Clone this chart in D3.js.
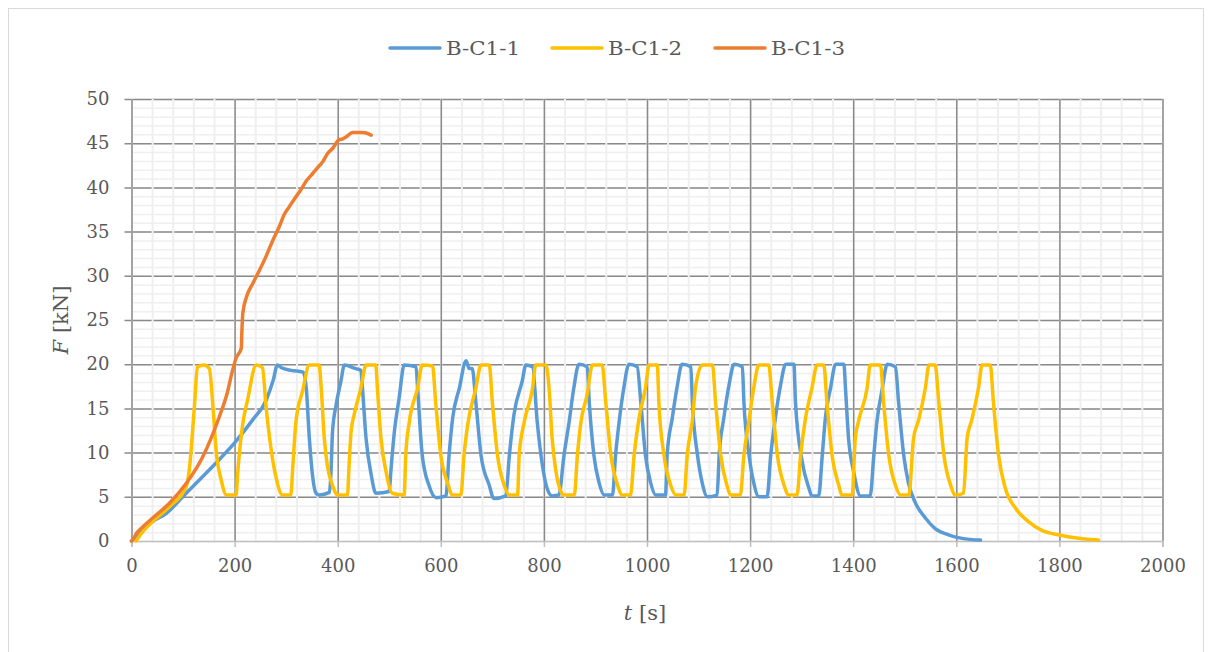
<!DOCTYPE html>
<html>
<head>
<meta charset="utf-8">
<script src="https://cdn.jsdelivr.net/npm/d3@7"></script>
<style>
  body { margin: 0; background: #fff; }
</style>
</head>
<body>
<div id="chart"></div>
<script>
const FONT = "'DejaVu Serif', 'Liberation Serif', serif";

// Series names and colours
const seriesNames = ["B-C1-1", "B-C1-2", "B-C1-3"];
const seriesColors = ["#5B9BD5", "#FFC000", "#ED7D31"];

// Axis ticks
const xTicks = [0, 200, 400, 600, 800, 1000, 1200, 1400, 1600, 1800, 2000];
const yTicks = [0, 5, 10, 15, 20, 25, 30, 35, 40, 45, 50];

// [t (s), F (kN)]
const bc11 = [
  [0,0],[20,1.2],[41,2.2],[67,3.1],[106,5.4],[145,7.7],[170,9.2],[200,11.1],[235,13.7],[261,15.9],[275,18.2],[283,19.9],[291,19.6],[310,19.3],[333,19.1],
  [339,17.3],[345,11.6],[351,7.5],[358,5.4],[364,5.2],[384,5.5],
  [387,7.8],[390,12.4],[397,15.4],[406,18.0],[413,19.9],[435,19.5],[445,19.3],
  [448,17.3],[455,11.6],[465,7.5],[474,5.4],[500,5.6],
  [503,7.8],[510,12.4],[519,16.1],[529,19.9],[552,19.7],
  [555,17.3],[564,9.7],[577,6.3],[591,4.9],[610,5.1],
  [616,9.7],[623,13.9],[636,17.3],[649,20.4],[655,19.5],[661,19.5],
  [668,15.7],[678,9.7],[694,6.3],[703,4.8],[726,5.1],
  [733,9.7],[742,14.3],[758,18.1],[765,19.9],[778,19.7],
  [787,13.5],[797,8.6],[806,6.0],[816,5.1],[829,5.2],
  [839,9.7],[849,13.5],[858,17.3],[868,20],[884,19.7],
  [888,15.7],[897,9.7],[907,6.6],[917,5.2],[933,5.2],
  [939,9.7],[946,13.5],[955,17.3],[965,20],[981,19.7],
  [988,15.7],[997,9.7],[1007,6.6],[1017,5.2],[1036,5.2],
  [1039,9.7],[1049,13.9],[1058,17.3],[1068,20],[1085,19.7],
  [1088,15.7],[1098,9.7],[1107,6.6],[1117,5.0],[1136,5.2],
  [1140,9.7],[1149,13.9],[1159,17.6],[1169,20],[1185,19.7],
  [1188,15.7],[1198,9.7],[1207,6.6],[1217,5.0],[1233,5.0],
  [1240,9.7],[1249,13.9],[1259,17.6],[1269,20],[1285,20],
  [1288,15.7],[1301,9.0],[1314,6.0],[1320,5.1],[1333,5.1],
  [1340,9.7],[1346,13.9],[1356,17.3],[1366,20],[1382,20],
  [1385,17.3],[1391,11.6],[1401,7.8],[1414,5.1],[1433,5.1],
  [1440,9.7],[1446,13.5],[1456,17.1],[1466,20],[1482,19.7],
  [1488,15.7],[1498,9.7],[1507,6.6],[1520,4.4],[1540,2.6],[1559,1.4],[1585,0.7],[1611,0.3],[1647,0.1]
];

const bc12 = [
  [9,0],[22,1.05],[41,2.2],[74,3.9],[106,6.1],[112,8],[122,15.2],[128,19.7],[141,19.9],[151,19.5],
  [158,15.2],[164,10.3],[174,6.9],[184,5.2],[203,5.2],
  [206,7.7],[216,13.3],[225,15.9],[242,19.9],[254,19.6],
  [261,15.2],[271,10.3],[280,7.3],[293,5.2],[309,5.2],
  [313,8.5],[319,13.5],[332,17],[345,19.9],[364,19.9],
  [368,17.3],[374,11.6],[380,8.5],[390,6.3],[400,5.2],[419,5.2],
  [422,8.5],[426,12.4],[432,14.3],[445,17.3],[455,19.9],[474,19.9],
  [477,17.3],[484,11.6],[494,7.8],[506,5.4],[529,5.2],
  [532,9.7],[539,13.5],[555,17.3],[564,19.9],[584,19.8],
  [590,15.7],[600,9.7],[613,6.6],[623,5.2],[639,5.2],
  [645,9.7],[652,13.1],[668,17.3],[678,19.9],[694,19.9],
  [700,15.7],[710,9.7],[723,6.3],[733,5.2],[749,5.2],
  [752,9.7],[762,13.5],[778,17.3],[784,19.9],[804,19.9],
  [810,17.3],[816,11.6],[823,8.0],[833,5.6],[839,5.2],[859,5.2],
  [865,9.7],[871,13.1],[884,16.6],[894,19.9],[913,19.9],
  [920,15.7],[930,9.7],[943,6.3],[952,5.2],[968,5.2],
  [975,9.7],[984,13.7],[997,17.3],[1004,19.9],[1020,19.9],
  [1023,15.7],[1033,9.7],[1046,6.3],[1056,5.2],[1072,5.2],
  [1078,9.7],[1088,13.7],[1094,17.3],[1107,19.9],[1127,19.9],
  [1133,15.7],[1143,9.7],[1155,6.3],[1162,5.2],[1181,5.2],
  [1188,9.7],[1198,13.7],[1207,17.3],[1217,19.9],[1236,19.9],
  [1243,15.7],[1253,9.7],[1266,6.3],[1275,5.2],[1291,5.2],
  [1298,9.7],[1307,13.7],[1320,17.3],[1330,19.9],[1343,19.9],
  [1349,15.7],[1359,9.7],[1372,6.3],[1378,5.2],[1398,5.2],
  [1404,11.6],[1411,13.7],[1427,17.3],[1433,19.9],[1453,19.9],
  [1459,15.7],[1469,9.7],[1482,6.3],[1492,5.2],[1508,5.2],
  [1517,11.6],[1527,13.7],[1540,17.3],[1547,19.9],[1559,19.9],
  [1566,15.7],[1576,9.7],[1589,6.3],[1598,5.2],[1614,5.4],
  [1621,11.6],[1630,13.7],[1643,17.3],[1650,19.9],[1666,19.9],
  [1672,15.7],[1682,9.7],[1695,6.0],[1715,3.7],[1740,2.2],[1766,1.2],[1798,0.7],[1837,0.3],[1876,0.1]
];

const bc13 = [
  [0,0],[3,0.2],[10,0.9],[22,1.6],[41,2.6],[74,4.3],[106,6.5],[138,9.5],[170,14],[186,16.8],[196,19.3],[203,20.7],
  [213,21.8],[214,23.5],[216,25.8],[223,27.6],[235,29.1],[248,30.6],[261,32.2],[274,34.0],[287,35.6],[296,36.9],
  [306,37.8],[316,38.7],[326,39.5],[340,40.8],[352,41.6],[362,42.3],[371,42.9],[380,43.8],[390,44.4],[403,45.4],
  [410,45.5],[416,45.7],[429,46.2],[440,46.2],[448,46.2],[458,46.1],[465,45.9]
];

const allSeries = [bc11, bc12, bc13];

// Dimensions
const W = 1208, H = 652;
const plot = { left: 131.5, right: 1162.5, top: 99, bottom: 541 };
const width = plot.right - plot.left;
const height = plot.bottom - plot.top;

const x = d3.scaleLinear().domain([0, 2000]).range([0, width]);
const y = d3.scaleLinear().domain([0, 50]).range([height, 0]);

const svg = d3.select("#chart").append("svg")
  .attr("width", W).attr("height", H)
  .style("font-family", FONT);

// Outer chart border
svg.append("rect")
  .attr("x", 8.5).attr("y", 8.5)
  .attr("width", 1195).attr("height", 660)
  .attr("fill", "#fff")
  .attr("stroke", "#d9d9d9")
  .attr("stroke-width", 1);

const g = svg.append("g").attr("transform", `translate(${plot.left},${plot.top})`);

// Minor horizontal gridlines
g.append("g")
  .call(d3.axisLeft(y).tickValues(d3.range(0, 51, 1)).tickSize(-width).tickFormat(""))
  .call(s => s.select(".domain").remove())
  .selectAll("line").attr("stroke", "#efefef").attr("stroke-width", 1.5);

// Major horizontal gridlines (with outer ticks)
g.append("g")
  .call(d3.axisLeft(y).tickValues(yTicks.slice(1)).tickSize(-width).tickFormat(""))
  .call(s => s.select(".domain").remove())
  .selectAll("line").attr("stroke", "#8a8a8a").attr("stroke-width", 1.5).attr("x2", width).attr("x1", -7);

// Minor vertical gridlines
g.append("g")
  .attr("transform", `translate(0,${height})`)
  .call(d3.axisBottom(x).tickValues(d3.range(0, 2001, 40)).tickSize(-height).tickFormat(""))
  .call(s => s.select(".domain").remove())
  .selectAll("line").attr("stroke", "#efefef").attr("stroke-width", 2);

// Major vertical gridlines
g.append("g")
  .attr("transform", `translate(0,${height})`)
  .call(d3.axisBottom(x).tickValues(xTicks).tickSize(-height).tickFormat(""))
  .call(s => s.select(".domain").remove())
  .selectAll("line").attr("stroke", "#8a8a8a").attr("stroke-width", 1.5);

// X axis line with ticks and labels
const xAxis = g.append("g")
  .attr("transform", `translate(0,${height})`)
  .call(d3.axisBottom(x).tickValues(xTicks).tickSize(6).tickPadding(12).tickFormat(d3.format("d")));
xAxis.select(".domain").attr("stroke", "#bfbfbf").attr("stroke-width", 1.5);
xAxis.selectAll("line").attr("stroke", "#bfbfbf").attr("stroke-width", 1.5);
xAxis.selectAll("text")
  .style("font-family", FONT).style("font-size", "18px").attr("fill", "#595959");

// Y axis labels
const yAxis = g.append("g")
  .call(d3.axisLeft(y).tickValues(yTicks).tickSize(0).tickPadding(22));
yAxis.select(".domain").remove();
yAxis.selectAll("text")
  .style("font-family", FONT).style("font-size", "18px").attr("fill", "#595959");

// Lines
const line = d3.line()
  .x(d => x(d[0]))
  .y(d => y(d[1]))
  .curve(d3.curveMonotoneX);

allSeries.forEach((data, i) => {
  g.append("path")
    .datum(data)
    .attr("fill", "none")
    .attr("stroke", seriesColors[i])
    .attr("stroke-width", 3.5)
    .attr("stroke-linejoin", "round")
    .attr("stroke-linecap", "round")
    .attr("d", line);
});

// Axis titles
svg.append("text")
  .attr("x", 645).attr("y", 620)
  .attr("text-anchor", "middle")
  .style("font-family", FONT).style("font-size", "21px").attr("fill", "#595959")
  .html('<tspan font-style="italic">t</tspan> [s]');

svg.append("text")
  .attr("transform", "translate(68,320) rotate(-90)")
  .attr("text-anchor", "middle")
  .style("font-family", FONT).style("font-size", "21px").attr("fill", "#595959")
  .html('<tspan font-style="italic">F</tspan> [kN]');

// Legend
const legendX = [390, 552, 715];
seriesNames.forEach((name, i) => {
  const row = svg.append("g").attr("transform", `translate(${legendX[i]},48)`);
  row.append("line")
    .attr("x1", 0).attr("x2", 50).attr("y1", 0).attr("y2", 0)
    .attr("stroke", seriesColors[i])
    .attr("stroke-width", 3.5)
    .attr("stroke-linecap", "round");
  row.append("text")
    .attr("x", 56).attr("y", 7)
    .attr("textLength", 74)
    .attr("lengthAdjust", "spacingAndGlyphs")
    .style("font-family", FONT).style("font-size", "19px").attr("fill", "#595959")
    .text(name);
});
</script>
</body>
</html>
